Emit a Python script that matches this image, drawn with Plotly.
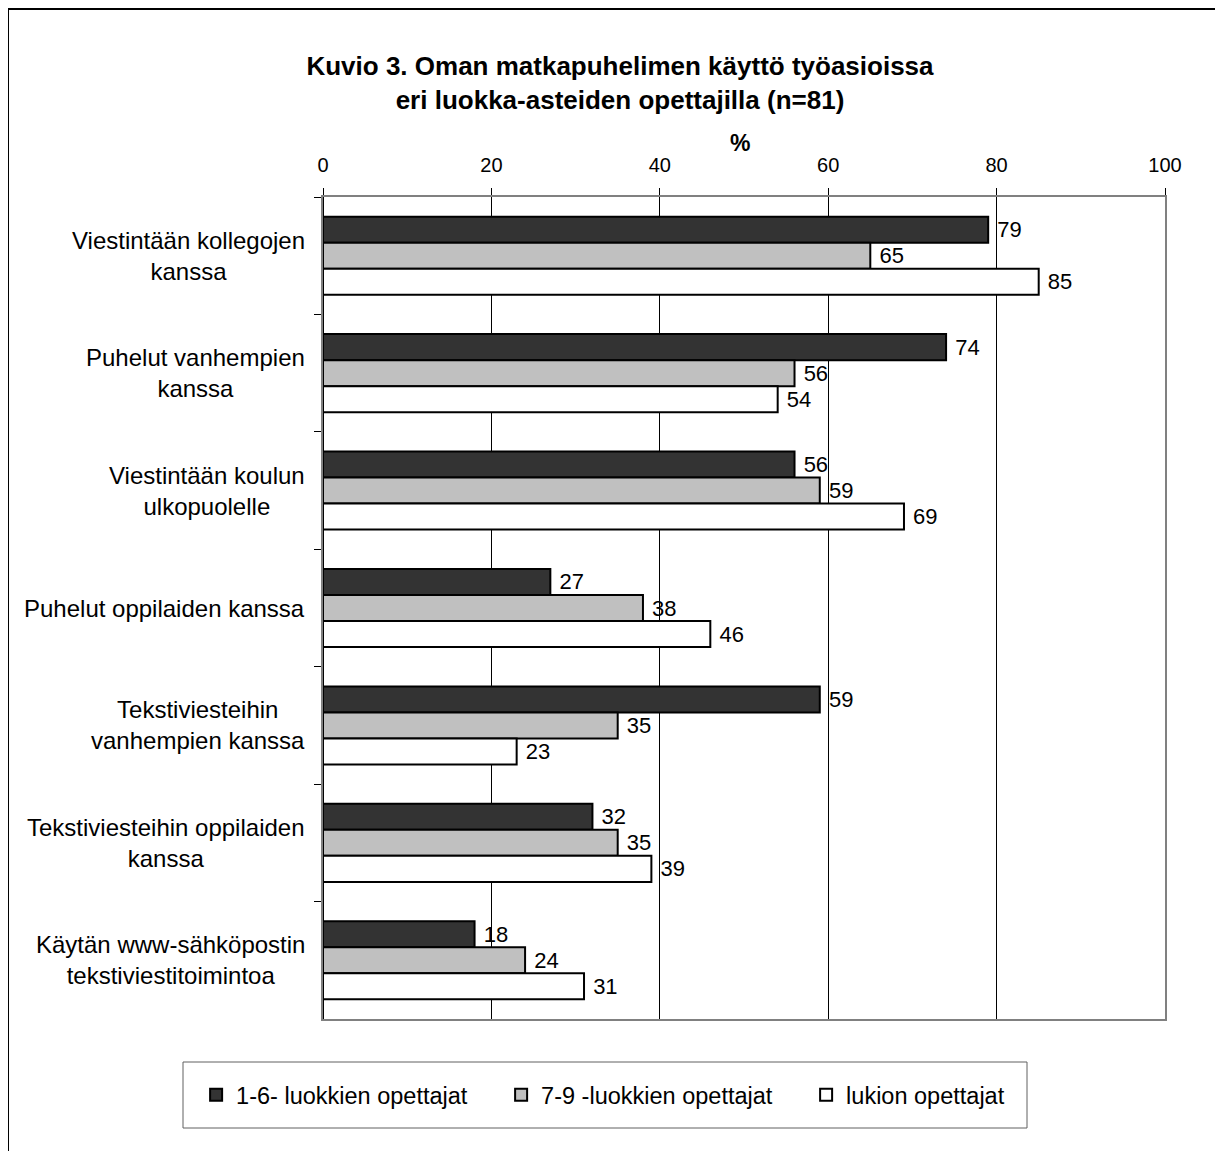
import plotly.graph_objects as go

categories = [
    "Viestintään kollegojen<br>kanssa",
    "Puhelut vanhempien<br>kanssa",
    "Viestintään koulun<br>ulkopuolelle",
    "Puhelut oppilaiden kanssa",
    "Tekstiviesteihin<br>vanhempien kanssa",
    "Tekstiviesteihin oppilaiden<br>kanssa",
    "Käytän www-sähköpostin<br>tekstiviestitoimintoa",
]
series_names = ["1-6- luokkien opettajat", "7-9 -luokkien opettajat", "lukion opettajat"]
luokat_1_6 = [79, 74, 56, 27, 59, 32, 18]
luokat_7_9 = [65, 56, 59, 38, 35, 35, 24]
lukio = [85, 54, 69, 46, 23, 39, 31]
x_ticks = [0, 20, 40, 60, 80, 100]

colors = ["#333333", "#c0c0c0", "#ffffff"]
font = "Liberation Sans, Arial, sans-serif"

fig = go.Figure()
for name, vals, col in zip(series_names, [luokat_1_6, luokat_7_9, lukio], colors):
    fig.add_trace(go.Bar(
        y=categories, x=vals, name=name, orientation="h",
        marker=dict(color=col, line=dict(color="black", width=2)),
        texttemplate=" %{x}", textposition="outside", constraintext="none",
        textfont=dict(size=22, color="black", family=font),
        cliponaxis=False,
    ))

# category labels as centred multi-line annotations
for c in categories:
    fig.add_annotation(x=0, xref="paper", y=c, yref="y", text=c, showarrow=False,
                       xanchor="right", xshift=-16, align="center",
                       font=dict(size=24, color="black", family=font))

# axis title "%"
fig.add_annotation(x=0.495, xref="paper", y=1.0657, yref="paper", text="<b>%</b>",
                   showarrow=False, xanchor="center", yanchor="middle",
                   font=dict(size=23, color="black", family=font))

fig.update_layout(
    width=1223, height=1151,
    margin=dict(l=315, r=66, t=189, b=140),
    paper_bgcolor="white", plot_bgcolor="white",
    barmode="group", bargap=0.335, bargroupgap=0,
    font=dict(family=font, color="black"),
    title=dict(text="<b>Kuvio 3. Oman matkapuhelimen käyttö työasioissa<br>eri luokka-asteiden opettajilla (n=81)</b>",
               x=0.5004, xanchor="center", y=0.942, yanchor="top",
               font=dict(size=26, family=font, color="black")),
    legend=dict(orientation="h", x=-0.1507, xanchor="left", y=-0.0657, yanchor="top",
                borderwidth=0, bgcolor="rgba(0,0,0,0)",
                font=dict(size=23.5, family=font, color="black"),
                entrywidth=260, itemwidth=30),
    showlegend=True,
)
fig.update_xaxes(side="top", range=[0, 100], tickvals=x_ticks,
                 tickfont=dict(size=20, family=font, color="black"), ticklabelstandoff=8,
                 showgrid=True, gridcolor="black", gridwidth=1, zeroline=False,
                 showline=True, linecolor="#808080", linewidth=2, mirror=True,
                 ticks="outside", ticklen=7, tickcolor="black")
fig.update_yaxes(autorange="reversed", showticklabels=False,
                 showline=True, linecolor="#808080", linewidth=2, mirror=True,
                 ticks="outside", ticklen=7, tickcolor="black", tickson="boundaries",
                 showgrid=False)
# black left axis line
fig.add_shape(type="line", xref="x", yref="paper", x0=0, x1=0, y0=0, y1=1,
              line=dict(color="black", width=2))
# legend frame
fig.add_shape(type="rect", xref="paper", yref="paper",
              x0=(183 - 323) / 842, x1=(1027 - 323) / 842,
              y0=(1019 - 1128) / 822, y1=(1019 - 1062) / 822,
              line=dict(color="#606060", width=1), fillcolor="white", layer="below")
# outer frame (left and top edges visible)
fig.add_shape(type="rect", xref="paper", yref="paper", x0=-0.3741, x1=1.2, y0=-0.3, y1=1.2287,
              line=dict(color="black", width=2), layer="below")

fig.write_html("out.html")
